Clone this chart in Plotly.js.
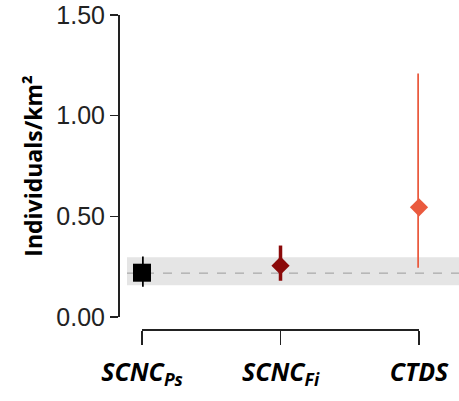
<!DOCTYPE html>
<html>
<head>
<meta charset="utf-8">
<script src="https://cdn.plot.ly/plotly-3.0.1.min.js"></script>
<style>html,body{margin:0;padding:0;background:#fff;}#chart{width:459px;height:401px;}</style>
</head>
<body>
<div id="chart"></div>
<script>
// Data
const categories = ["SCNC<sub>Ps</sub>", "SCNC<sub>Fi</sub>", "CTDS"];
const estimates = [0.22, 0.255, 0.545];
const lower = [0.15, 0.18, 0.245];
const upper = [0.30, 0.355, 1.21];
const colors = ["#000000", "#8B0A0A", "#EA5A3E"];
const symbols = ["square", "diamond", "diamond"];
const bandLow = 0.158;
const bandHigh = 0.297;
const refLine = 0.218;
const yTicks = [0, 0.5, 1.0, 1.5];
const yTickText = ["0.00", "0.50", "1.00", "1.50"];

const traces = categories.map((c, i) => ({
  type: "scatter",
  mode: "markers",
  x: [i],
  y: [estimates[i]],
  xaxis: "x",
  yaxis: "y",
  cliponaxis: false,
  marker: { symbol: symbols[i], color: colors[i], size: symbols[i] === "square" ? 18 : 14 },
  error_y: {
    type: "data", symmetric: false,
    array: [upper[i] - estimates[i]],
    arrayminus: [estimates[i] - lower[i]],
    color: colors[i], thickness: 3.5, width: 0
  },
  showlegend: false,
  hoverinfo: "skip"
}));

const layout = {
  width: 459, height: 401,
  margin: { l: 118, r: 0, t: 15, b: 72 },
  paper_bgcolor: "#fff", plot_bgcolor: "rgba(0,0,0,0)",
  showlegend: false,
  xaxis: {
    domain: [0.0704, 0.8827], range: [0, 2], anchor: "free", position: 0,
    showline: true, linecolor: "#222", linewidth: 1.5,
    ticks: "outside", ticklen: 14, tickwidth: 1.5, tickcolor: "#222",
    tickvals: [0, 1, 2],
    ticktext: categories.map(c => "<b><i>" + c + "</i></b>"),
    tickfont: { family: "Open Sans, sans-serif", size: 25, color: "#000" },
    ticklabelstandoff: 6,
    showgrid: false, zeroline: false, fixedrange: true
  },
  yaxis: {
    domain: [0.0382, 1], range: [0, 1.5], anchor: "free", position: 0,
    showline: true, linecolor: "#222", linewidth: 1.5,
    ticks: "outside", ticklen: 8, tickwidth: 1.5, tickcolor: "#222",
    tickvals: yTicks, ticktext: yTickText,
    tickfont: { family: "Liberation Sans, Arial, sans-serif", size: 25, color: "#222" },
    ticklabelstandoff: 0,
    showgrid: false, zeroline: false,
    title: { text: "<b>Individuals/km²</b>", font: { family: "Open Sans, sans-serif", size: 23, color: "#000" }, standoff: 6 }
  },
  shapes: [
    { type: "rect", xref: "paper", yref: "y", x0: 0.0264, x1: 1, y0: bandLow, y1: bandHigh,
      fillcolor: "#e5e5e5", line: { width: 0 }, layer: "below" },
    { type: "line", xref: "paper", yref: "y", x0: 0.0264, x1: 1, y0: refLine, y1: refLine,
      line: { color: "#9a9a9a", width: 1, dash: "dash" }, layer: "below" }
  ]
};

Plotly.newPlot("chart", traces, layout, { staticPlot: true, displayModeBar: false });
</script>
</body>
</html>
